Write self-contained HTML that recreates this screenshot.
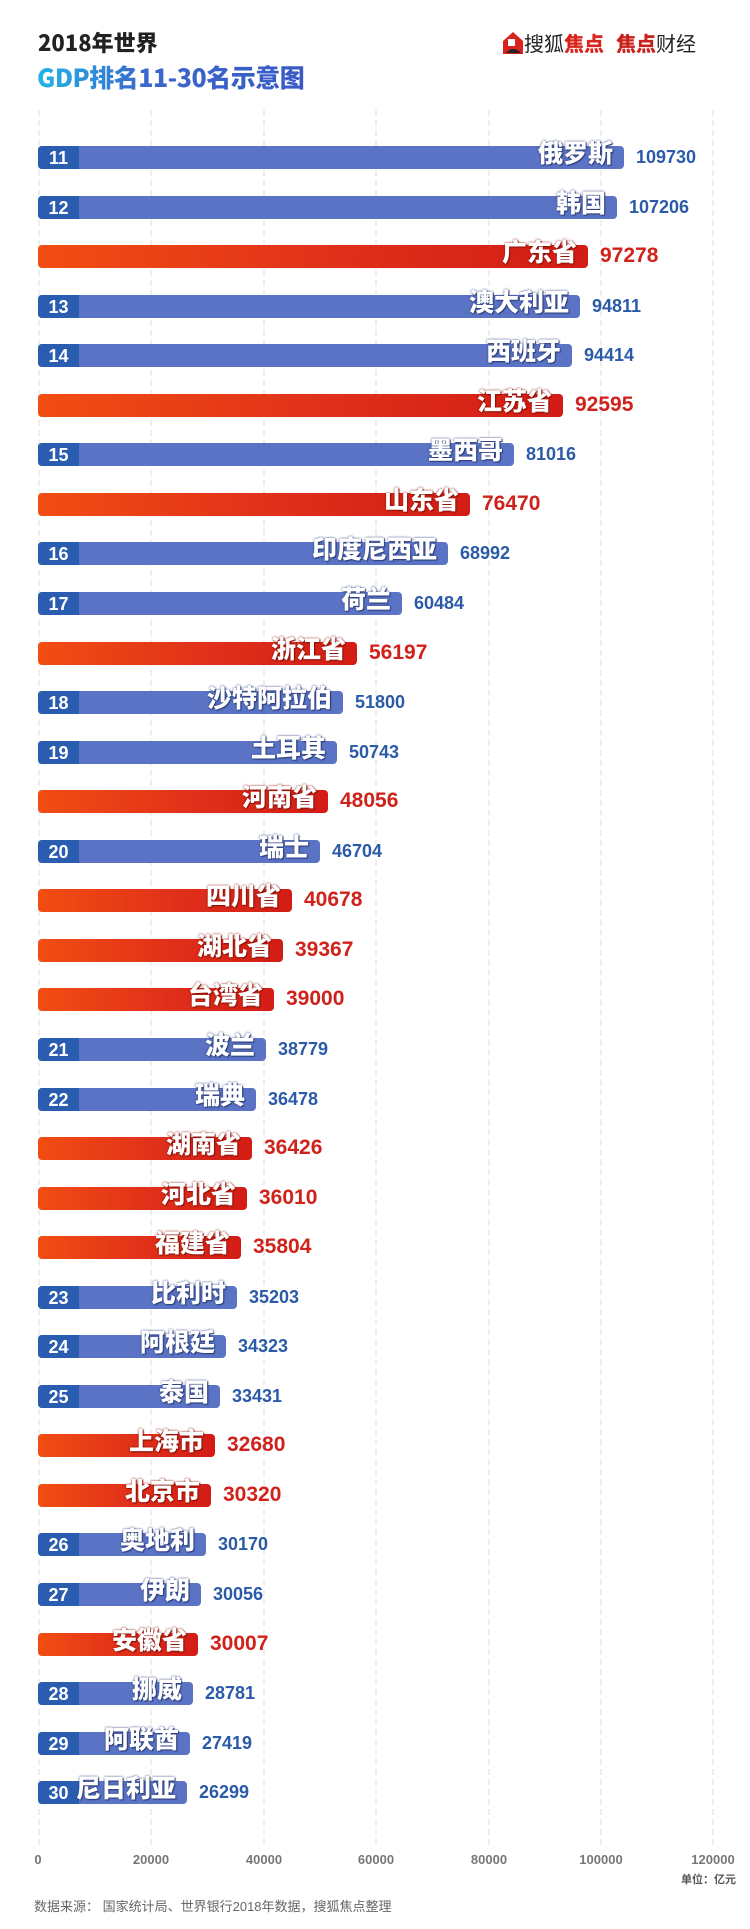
<!DOCTYPE html>
<html><head><meta charset="utf-8">
<style>
*{margin:0;padding:0;box-sizing:border-box}
body{width:750px;height:1929px;background:#fff;position:relative;overflow:hidden;font-family:"Liberation Sans","Noto Sans CJK SC",sans-serif}
.abs{position:absolute}
.grid{position:absolute;top:110px;height:1735px;width:0;border-left:2px dashed #eeeeee}
.tick{position:absolute;top:1852px;font-size:13px;color:#777;transform:translateX(-50%);font-weight:bold}
.row{position:absolute;left:0;width:750px;height:23px}
.bar{position:absolute;left:38px;top:0;height:23px;border-radius:4px}
.bc{background:#5b73c4}
.bp{background:linear-gradient(90deg,#f24d12,#e0301a 55%,#d21c15)}
.num{position:absolute;left:0;top:0;width:41px;height:23px;background:#2a5cb0;border-radius:4px 0 0 4px;color:#fff;font-weight:bold;font-size:18px;line-height:25px;text-align:center}
.lab{position:absolute;right:11px;bottom:3px;color:#fff;font-weight:900;font-size:25px;line-height:28px;white-space:nowrap;font-family:"Noto Sans CJK SC",sans-serif;text-shadow:0 0 2px #2a3c7a,1px 1px 1px #2a3c7a}
.bp .lab{text-shadow:0 0 2px #8a1208,1px 1px 1px #8a1208}
.vc{position:absolute;top:1px;color:#2b5ba8;font-size:18px;font-weight:bold;white-space:nowrap}
.vp{position:absolute;top:-1px;color:#d0221a;font-size:21px;font-weight:bold;white-space:nowrap}
</style></head><body>
<div class="abs" style="left:38px;top:28px;font-size:22px;font-weight:900;color:#222;font-family:'Noto Sans CJK SC',sans-serif;line-height:28px">2018年世界</div>
<div class="abs" style="left:37px;top:62px;font-size:25px;font-weight:900;line-height:30px;font-family:'Noto Sans CJK SC',sans-serif;background:linear-gradient(90deg,#22b5e6,#3a68cc 40%,#3a5ac6);-webkit-background-clip:text;background-clip:text;color:transparent;letter-spacing:-0.5px">GDP排名11-30名示意图</div>
<div class="abs" style="left:502px;top:31px;width:22px;height:24px">
<svg width="22" height="24" viewBox="0 0 22 24"><path d="M11 1 L21 10 L21 23 L1 23 L1 10 Z" fill="#d8241c"/><rect x="6" y="8" width="7" height="7" fill="#fff"/><path d="M4 22 Q11 14 19 22 Z" fill="#222"/></svg></div>
<div class="abs" style="left:524px;top:30px;font-size:20px;line-height:26px;font-family:'Noto Sans CJK SC',sans-serif;white-space:nowrap"><span style="color:#222">搜狐</span><span style="color:#d8241c;font-weight:900">焦点</span><span style="display:inline-block;width:12px"></span><span style="color:#c8201a;font-weight:900">焦点</span><span style="color:#222">财经</span></div>

<div class="grid" style="left:38px"></div>
<div class="grid" style="left:150px"></div>
<div class="grid" style="left:263px"></div>
<div class="grid" style="left:375px"></div>
<div class="grid" style="left:488px"></div>
<div class="grid" style="left:600px"></div>
<div class="grid" style="left:712px"></div>
<div class="tick" style="left:38px">0</div>
<div class="tick" style="left:151px">20000</div>
<div class="tick" style="left:264px">40000</div>
<div class="tick" style="left:376px">60000</div>
<div class="tick" style="left:489px">80000</div>
<div class="tick" style="left:601px">100000</div>
<div class="tick" style="left:713px">120000</div>
<div class="abs" style="right:14px;top:1871px;font-size:11px;color:#555;font-weight:bold">单位：亿元</div>
<div class="abs" style="left:34px;top:1896px;font-size:13px;color:#666">数据来源： 国家统计局、世界银行2018年数据，搜狐焦点整理</div>

<div class="row" style="top:146px"><div class="bar bc" style="width:586px"><div class="num">11</div><div class="lab">俄罗斯</div></div><div class="vc" style="left:636px">109730</div></div>
<div class="row" style="top:195.6px"><div class="bar bc" style="width:579px"><div class="num">12</div><div class="lab">韩国</div></div><div class="vc" style="left:629px">107206</div></div>
<div class="row" style="top:245.1px"><div class="bar bp" style="width:550px"><div class="lab">广东省</div></div><div class="vp" style="left:600px">97278</div></div>
<div class="row" style="top:294.7px"><div class="bar bc" style="width:542px"><div class="num">13</div><div class="lab">澳大利亚</div></div><div class="vc" style="left:592px">94811</div></div>
<div class="row" style="top:344.2px"><div class="bar bc" style="width:534px"><div class="num">14</div><div class="lab">西班牙</div></div><div class="vc" style="left:584px">94414</div></div>
<div class="row" style="top:393.8px"><div class="bar bp" style="width:525px"><div class="lab">江苏省</div></div><div class="vp" style="left:575px">92595</div></div>
<div class="row" style="top:443.3px"><div class="bar bc" style="width:476px"><div class="num">15</div><div class="lab">墨西哥</div></div><div class="vc" style="left:526px">81016</div></div>
<div class="row" style="top:492.9px"><div class="bar bp" style="width:432px"><div class="lab">山东省</div></div><div class="vp" style="left:482px">76470</div></div>
<div class="row" style="top:542.4px"><div class="bar bc" style="width:410px"><div class="num">16</div><div class="lab">印度尼西亚</div></div><div class="vc" style="left:460px">68992</div></div>
<div class="row" style="top:592px"><div class="bar bc" style="width:364px"><div class="num">17</div><div class="lab">荷兰</div></div><div class="vc" style="left:414px">60484</div></div>
<div class="row" style="top:641.5px"><div class="bar bp" style="width:319px"><div class="lab">浙江省</div></div><div class="vp" style="left:369px">56197</div></div>
<div class="row" style="top:691px"><div class="bar bc" style="width:305px"><div class="num">18</div><div class="lab">沙特阿拉伯</div></div><div class="vc" style="left:355px">51800</div></div>
<div class="row" style="top:740.6px"><div class="bar bc" style="width:299px"><div class="num">19</div><div class="lab">土耳其</div></div><div class="vc" style="left:349px">50743</div></div>
<div class="row" style="top:790.2px"><div class="bar bp" style="width:290px"><div class="lab">河南省</div></div><div class="vp" style="left:340px">48056</div></div>
<div class="row" style="top:839.7px"><div class="bar bc" style="width:282px"><div class="num">20</div><div class="lab">瑞士</div></div><div class="vc" style="left:332px">46704</div></div>
<div class="row" style="top:889.3px"><div class="bar bp" style="width:254px"><div class="lab">四川省</div></div><div class="vp" style="left:304px">40678</div></div>
<div class="row" style="top:938.8px"><div class="bar bp" style="width:245px"><div class="lab">湖北省</div></div><div class="vp" style="left:295px">39367</div></div>
<div class="row" style="top:988.4px"><div class="bar bp" style="width:236px"><div class="lab">台湾省</div></div><div class="vp" style="left:286px">39000</div></div>
<div class="row" style="top:1037.9px"><div class="bar bc" style="width:228px"><div class="num">21</div><div class="lab">波兰</div></div><div class="vc" style="left:278px">38779</div></div>
<div class="row" style="top:1087.5px"><div class="bar bc" style="width:218px"><div class="num">22</div><div class="lab">瑞典</div></div><div class="vc" style="left:268px">36478</div></div>
<div class="row" style="top:1137px"><div class="bar bp" style="width:214px"><div class="lab">湖南省</div></div><div class="vp" style="left:264px">36426</div></div>
<div class="row" style="top:1186.6px"><div class="bar bp" style="width:209px"><div class="lab">河北省</div></div><div class="vp" style="left:259px">36010</div></div>
<div class="row" style="top:1236.1px"><div class="bar bp" style="width:203px"><div class="lab">福建省</div></div><div class="vp" style="left:253px">35804</div></div>
<div class="row" style="top:1285.7px"><div class="bar bc" style="width:199px"><div class="num">23</div><div class="lab">比利时</div></div><div class="vc" style="left:249px">35203</div></div>
<div class="row" style="top:1335.2px"><div class="bar bc" style="width:188px"><div class="num">24</div><div class="lab">阿根廷</div></div><div class="vc" style="left:238px">34323</div></div>
<div class="row" style="top:1384.8px"><div class="bar bc" style="width:182px"><div class="num">25</div><div class="lab">泰国</div></div><div class="vc" style="left:232px">33431</div></div>
<div class="row" style="top:1434.3px"><div class="bar bp" style="width:177px"><div class="lab">上海市</div></div><div class="vp" style="left:227px">32680</div></div>
<div class="row" style="top:1483.9px"><div class="bar bp" style="width:173px"><div class="lab">北京市</div></div><div class="vp" style="left:223px">30320</div></div>
<div class="row" style="top:1533.4px"><div class="bar bc" style="width:168px"><div class="num">26</div><div class="lab">奥地利</div></div><div class="vc" style="left:218px">30170</div></div>
<div class="row" style="top:1583px"><div class="bar bc" style="width:163px"><div class="num">27</div><div class="lab">伊朗</div></div><div class="vc" style="left:213px">30056</div></div>
<div class="row" style="top:1632.5px"><div class="bar bp" style="width:160px"><div class="lab">安徽省</div></div><div class="vp" style="left:210px">30007</div></div>
<div class="row" style="top:1682px"><div class="bar bc" style="width:155px"><div class="num">28</div><div class="lab">挪威</div></div><div class="vc" style="left:205px">28781</div></div>
<div class="row" style="top:1731.6px"><div class="bar bc" style="width:152px"><div class="num">29</div><div class="lab">阿联酋</div></div><div class="vc" style="left:202px">27419</div></div>
<div class="row" style="top:1781.2px"><div class="bar bc" style="width:149px"><div class="num">30</div><div class="lab">尼日利亚</div></div><div class="vc" style="left:199px">26299</div></div>
</body></html>
